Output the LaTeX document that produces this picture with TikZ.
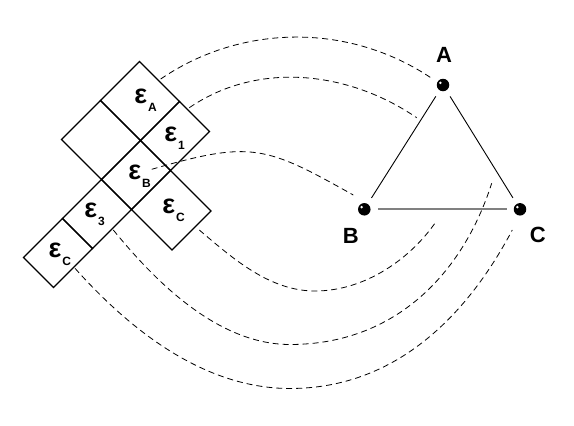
\documentclass[tikz,border=0pt]{standalone}
\usepackage{fontspec}
\setmainfont{Liberation Sans}
\usetikzlibrary{calc}
\newcommand{\epsl}[1]{\fontsize{27}{27}\selectfont\bfseries ε\rlap{\hspace{1pt}\smash{\raisebox{-8pt}{\fontsize{12}{12}\selectfont\bfseries #1}}}}
\begin{document}
\begin{tikzpicture}[x=1pt,y=-1pt,
  cellline/.style={line width=1.4pt, line join=miter},
  elab/.style={inner sep=0pt, anchor=center},
  vlab/.style={font=\fontsize{22}{22}\selectfont\bfseries, inner sep=0pt},
  ball/.style={circle, fill=black, inner sep=0pt, minimum size=12.5pt},
  triedge/.style={line width=0.9pt, shorten <=7pt, shorten >=7pt},
  link/.style={line width=0.8pt, dash pattern=on 6pt off 4pt}]
\useasboundingbox (0,0) rectangle (574,426);

% cells of the net (lattice at 45 degrees)
\begin{scope}[x={(0.5pt,-0.5pt)}, y={(0.5pt,0.5pt)}]
  \draw[cellline] (201,0)--(281,0)--(281,78)--(201,78)--cycle;     % eps A
  \draw[cellline] (201,-78)--(281,-78)--(281,0)--(201,0)--cycle;   % blank
  \draw[cellline] (281,0)--(341,0)--(341,78)--(281,78)--cycle;     % eps 1
  \draw[cellline] (281,-78)--(341,-78)--(341,0)--(281,0)--cycle;   % eps B
  \draw[cellline] (341,-78)--(422,-78)--(422,0)--(341,0)--cycle;   % eps C
  \draw[cellline] (281,-156)--(341,-156)--(341,-78)--(281,-78)--cycle; % eps 3
  \draw[cellline] (281,-234)--(341,-234)--(341,-156)--(281,-156)--cycle; % eps C
\end{scope}

% cell labels
\node[elab] (eA)  at (140.7,96.7)  {\epsl{A}};
\node[elab] (e1)  at (170.8,134.2) {\epsl{1}};
\node[elab] (eB)  at (134.7,172.2) {\epsl{B}};
\node[elab] (eC)  at (168.8,206.7) {\epsl{C}};
\node[elab] (e3)  at (90.8,210.8)  {\epsl{3}};
\node[elab] (eCl) at (55,250)      {\epsl{C}};

% triangle
\node[ball] (A) at (443,85) {};
\node[ball] (B) at (364.3,209.3) {};
\node[ball] (C) at (520,209.3) {};
\foreach \v in {A,B,C}{\fill[white] ($(\v)+(-2.6,-2.2)$) circle (1.4);}
\node[vlab] (lA) at (444,55.3) {A};
\node[vlab] (lB) at (350.7,235.7) {B};
\node[vlab] (lC) at (537.7,235) {C};
\draw[triedge] (A) -- (B);
\draw[triedge] (A) -- (C);
\draw[triedge, draw=gray, line width=1.8pt] (B) -- (C);

% dashed correspondences
\coordinate (a1s) at (160.7,79);   \coordinate (a1e) at (432.7,79);
\coordinate (a2s) at (189.3,107.7); \coordinate (a2e) at (416.7,117.7);
\coordinate (a3s) at (151.7,169.3); \coordinate (a3e) at (353.3,195);
\coordinate (a4s) at (199.3,230);   \coordinate (a4e) at (436,221.7);
\coordinate (a5s) at (113.3,230);   \coordinate (a5e) at (491.7,183.3);
\coordinate (a6s) at (75,268.3);    \coordinate (a6e) at (512.3,230);

\draw[link] (a1s) .. controls (242.6,23.1) and (350.8,23.1) .. (a1e);
\draw[link] (a2s) .. controls (257.8,60.9) and (348.2,70.9) .. (a2e);
\draw[link] (a3s) .. controls (251.7,140.3) and (265.3,145.7) .. (a3e);
\draw[link] (a4s) .. controls (233.6,259.2) and (270,291) .. (315,291)
                  .. controls (365,291) and (410.5,258.8) .. (a4e);
\draw[link] (a5s) .. controls (151.3,276.4) and (215,344.5) .. (290,344.5)
                  .. controls (395,344.5) and (462.8,273.8) .. (a5e);
\draw[link] (a6s) .. controls (125,324.3) and (200,388.5) .. (290,388.5)
                  .. controls (400,388.5) and (470.3,309.6) .. (a6e);
\end{tikzpicture}
\end{document}
